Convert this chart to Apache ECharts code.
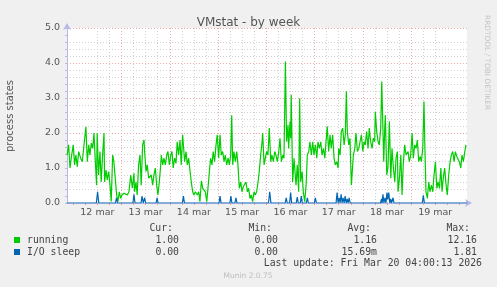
<!DOCTYPE html>
<html><head><meta charset="utf-8">
<script src="https://cdn.jsdelivr.net/npm/echarts@6.0.0/dist/echarts.min.js"></script>
<style>html,body{margin:0;padding:0;background:#f0f0f0;}#c{width:497px;height:287px;}</style>
</head><body><div id="c"></div>
<script>
// hours since 12 mar 00:00, value
const running = [[-3.0,1.37],[-2.3,1.66],[-1.6,1.0],[-1.0,1.28],[0,1.66],[0.7,1.09],[1.3,1.37],[2.0,1.04],[2.7,1.47],[3.7,1.28],[4.5,1.18],[5.3,1.13],[6.3,2.18],[7.0,1.18],[7.7,1.66],[8.3,1.37],[9.0,1.71],[9.7,1.56],[10.3,2.0],[10.9,1.28],[11.6,0.51],[11.9,2.0],[12.6,0.8],[13.3,1.47],[13.9,0.6],[14.6,1.37],[15.3,2.0],[15.6,0.6],[16.3,0.94],[16.9,0.66],[17.6,0.9],[18.3,0.51],[18.9,0.04],[19.6,1.37],[20.2,1.18],[20.9,1.23],[21.6,0.23],[22.2,0.04],[22.9,0.32],[23.6,0.13],[24.2,0.23],[25.2,0.28],[26.1,0.32],[26.9,0.23],[27.7,0.32],[28.6,0.8],[29.4,0.42],[30.2,0.85],[30.5,0.32],[31.2,0.6],[31.8,0.23],[32.5,1.09],[33.2,1.37],[33.8,0.51],[34.5,1.66],[35.2,1.8],[35.5,1.47],[36.2,0.9],[36.8,1.09],[37.5,0.71],[38.2,0.66],[38.8,0.8],[39.5,0.51],[40.1,0.8],[40.8,1.0],[41.5,0.51],[42.1,0.23],[42.8,0.6],[43.5,1.09],[43.8,1.37],[44.5,1.09],[45.1,1.28],[45.8,1.09],[46.5,1.37],[47.1,1.47],[47.8,1.09],[48.5,1.37],[49.1,1.47],[49.7,1.0],[50.4,1.28],[51.1,1.13],[51.7,1.75],[52.4,1.37],[53.1,1.8],[53.7,1.09],[54.4,1.95],[54.7,2.0],[55.4,1.18],[56.1,1.47],[56.7,1.09],[57.4,1.28],[58.1,0.9],[58.7,0.6],[59.4,0.32],[60.0,0.23],[60.7,0.32],[61.7,0.23],[62.4,0.32],[63.0,0.04],[63.7,0.63],[64.4,0.42],[65.0,0.47],[65.7,0.32],[66.4,0.04],[67.0,0.42],[67.7,0.9],[68.3,1.28],[69.0,1.09],[69.6,1.47],[70.3,1.18],[71.0,1.66],[71.6,1.95],[72.3,1.28],[73.0,1.95],[73.6,1.37],[74.3,1.47],[75.0,1.18],[75.6,1.37],[76.3,1.09],[77.0,1.28],[77.6,1.09],[78.3,1.37],[78.8,2.51],[79.3,1.09],[79.9,1.47],[80.6,1.18],[81.3,1.47],[81.9,1.09],[82.6,0.42],[83.3,0.6],[83.9,0.32],[84.6,0.47],[85.3,0.42],[85.9,0.6],[86.6,0.32],[87.2,0.42],[87.9,0.13],[88.5,0.23],[89.2,0.04],[89.9,0.32],[90.5,0.23],[91.2,0.32],[91.9,0.6],[92.5,0.9],[93.2,1.37],[93.9,1.75],[94.2,2.0],[94.9,1.09],[95.5,1.28],[96.2,1.47],[96.8,1.37],[97.5,2.14],[98.2,1.18],[98.8,1.37],[99.5,1.18],[100.2,1.47],[100.8,1.37],[101.5,1.18],[102.2,1.47],[102.8,1.85],[103.5,1.18],[104.2,1.37],[104.8,1.28],[105.5,4.04],[106.1,1.75],[106.8,2.23],[107.1,1.56],[107.8,2.33],[108.1,1.85],[108.4,3.09],[109.1,0.6],[109.8,1.28],[110.4,0.8],[110.8,0.51],[111.4,1.09],[112.1,0.32],[112.6,2.99],[113.1,0.6],[113.8,0.9],[114.4,0.32],[115.1,0.04],[115.8,0.51],[116.4,1.37],[117.1,1.47],[117.7,1.75],[118.4,1.37],[119.1,1.75],[119.7,1.37],[120.4,1.66],[121.1,1.28],[121.7,1.75],[122.4,1.56],[123.1,1.75],[123.7,1.37],[124.4,1.56],[125.1,1.28],[125.7,1.75],[126.3,2.19],[127.0,1.47],[127.7,1.95],[128.3,1.56],[129.0,1.95],[129.7,1.28],[130.3,1.09],[131.0,1.18],[131.7,1.0],[132.0,1.56],[132.7,1.37],[133.3,2.04],[134.0,2.14],[134.7,1.66],[135.3,1.95],[135.8,3.19],[136.3,2.04],[137.0,1.66],[137.6,1.85],[138.3,0.51],[138.6,0.47],[139.3,1.37],[140.0,1.56],[140.6,2.0],[141.3,1.47],[142.0,1.56],[142.6,1.75],[143.3,1.95],[144.0,1.47],[144.6,1.75],[145.2,1.66],[145.9,2.04],[146.6,1.56],[147.2,2.14],[147.9,1.75],[148.6,1.56],[149.2,1.85],[149.9,1.75],[150.2,2.61],[150.9,2.04],[151.6,1.75],[152.2,1.66],[152.9,2.14],[153.4,3.47],[153.9,2.33],[154.4,1.18],[154.9,2.14],[155.2,2.51],[155.9,0.8],[156.5,1.0],[157.2,2.33],[157.9,0.71],[158.5,1.56],[159.2,1.0],[159.9,0.6],[160.5,1.28],[161.2,1.47],[161.5,0.32],[162.2,0.71],[162.9,1.37],[163.5,0.23],[164.1,1.09],[164.8,1.66],[165.5,1.37],[166.5,1.47],[167.1,1.18],[167.8,1.37],[168.5,2.0],[169.1,1.28],[169.8,1.66],[170.5,1.56],[171.1,1.8],[171.8,1.18],[172.5,1.33],[173.1,1.18],[173.8,1.56],[174.4,2.9],[174.8,1.75],[175.4,0.32],[176.1,0.13],[176.8,0.6],[177.4,0.32],[178.1,0.51],[178.8,0.32],[179.4,0.8],[180.1,1.18],[180.8,0.42],[181.4,0.6],[182.1,0.42],[182.8,1.0],[183.4,0.32],[184.0,0.71],[184.7,1.0],[185.4,0.51],[186.0,0.23],[186.7,0.8],[187.4,1.18],[188.0,1.37],[188.7,1.47],[189.4,1.18],[190.0,1.47],[190.7,1.33],[191.4,1.37],[192.0,1.18],[192.7,1.0],[193.3,1.37],[194.0,1.18],[194.7,1.47],[195.3,1.66]];

const ioSleep = [[-3.2,0],[11.5,0],[12.1,0.32],[12.7,0],[21.0,0],[21.5,0.15],[22.0,0],[29.7,0],[30.2,0.25],[30.7,0],[33.7,0],[34.2,0.2],[34.8,0],[35.5,0.15],[36.0,0],[41.2,0],[41.7,0.15],[42.2,0],[54.3,0],[54.8,0.2],[55.3,0],[72.5,0],[73.0,0.2],[73.5,0],[77.9,0],[78.4,0.2],[78.9,0],[80.4,0],[80.9,0.15],[81.4,0],[97.1,0],[97.7,0.32],[98.3,0],[105.4,0],[105.9,0.15],[106.4,0],[107.6,0],[108.1,0.3],[108.6,0],[110.9,0],[111.4,0.17],[111.9,0],[112.9,0],[113.4,0.2],[113.9,0],[115.9,0],[116.4,0.15],[116.9,0],[119.9,0],[120.4,0.15],[120.9,0],[130.7,0],[131.2,0.3],[131.7,0],[132.2,0.15],[132.7,0],[133.2,0.25],[133.7,0],[134.2,0.15],[134.7,0],[135.2,0.2],[135.7,0],[136.2,0.12],[136.7,0],[137.2,0.15],[137.7,0],[152.8,0],[153.3,0.12],[153.6,0],[154.0,0.25],[154.5,0],[155.0,0.15],[155.5,0],[156.0,0.3],[156.4,0.1],[156.9,0.3],[157.4,0],[157.8,0.12],[158.3,0],[158.5,0],[159.0,0.15],[159.5,0],[173.6,0],[174.1,0.22],[174.6,0],[196,0]];

const dayLabels = ['12 mar','13 mar','14 mar','15 mar','16 mar','17 mar','18 mar','19 mar'];
const yTicks = [0,1,2,3,4,5];
const seriesNames = ['running','I/O sleep'];
const curVals = ['1.00','0.00'];
const minVals = ['0.00','0.00'];
const avgVals = ['1.16','15.69m'];
const maxVals = ['12.16','1.81'];
const lastUpdate = 'Last update: Fri Mar 20 04:00:13 2026';

const X_MIN = -3.1, X_MAX = 195.8;
const GREEN = '#00cc00', BLUE = '#0066b3';
const MAJOR = '#f0a8a8', MINOR = '#d2d2d2';

const xMajor = [], xMinor = [], xAll = [];
for (let h = 0; h < X_MAX; h += 6) { (h % 24 === 0 ? xMajor : xMinor).push(h); xAll.push(h); }
const yMajor = [1,2,3,4,5], yMinor = [], yAll = [];
for (let k = 1; k < 25; k++) if (k % 5) yMinor.push(+(k * 0.2).toFixed(1));
for (let k = 0; k <= 25; k++) yAll.push(+(k * 0.2).toFixed(1));

const txt = (x, y, s, align) => ({type:'text', x, y, style:{text:s, fill:'#444', font:'9.8px "DejaVu Sans Mono"', textAlign:align||'left', textVerticalAlign:'middle'}});

const graphics = [
  {type:'text', x:10, y:116, rotation:Math.PI/2, style:{text:'process states', fill:'#555', font:'10px "DejaVu Sans"', textAlign:'center', textVerticalAlign:'middle'}},
  {type:'text', x:487, y:15, rotation:-Math.PI/2, style:{text:'RRDTOOL / TOBI OETIKER', fill:'#c4c4c4', font:'7.4px "DejaVu Sans"', textAlign:'left', textVerticalAlign:'middle'}},
  txt(173,228,'Cur:','right'), txt(272,228,'Min:','right'), txt(371,228,'Avg:','right'), txt(470,228,'Max:','right'),
  {type:'rect', shape:{x:14,y:237,width:6,height:6}, style:{fill:GREEN}},
  {type:'rect', shape:{x:14,y:249,width:6,height:6}, style:{fill:BLUE}},
  txt(482,263,lastUpdate,'right'),
  {type:'text', x:248, y:276, style:{text:'Munin 2.0.75', fill:'#bdbdbd', font:'7.5px "DejaVu Sans"', textAlign:'center', textVerticalAlign:'middle'}}
];
[240,252].forEach((y,i) => {
  graphics.push(txt(27,y,seriesNames[i],'left'));
  graphics.push(txt(179,y,curVals[i],'right'));
  graphics.push(txt(278,y,minVals[i],'right'));
  graphics.push(txt(377,y,avgVals[i],'right'));
  graphics.push(txt(477,y,maxVals[i],'right'));
});

const gridAxis = (vals, color, showMax) => ({
  type:'value',
  axisLine:{show:false}, axisLabel:{show:false},
  axisTick:{show:false, customValues:vals},
  splitLine:{show:true, showMinLine:false, showMaxLine:!!showMax, lineStyle:{color, type:[1,2], width:1}}
});
const axisLineStyle = {show:true, onZero:false, lineStyle:{color:'#b8b8e8', width:1}, symbol:['none','arrow'], symbolSize:[6,7], symbolOffset:[0,5]};

const xg1 = Object.assign(gridAxis(xMinor, MINOR), {min:X_MIN, max:X_MAX});
const xg2 = Object.assign(gridAxis(xMajor, MAJOR), {min:X_MIN, max:X_MAX});
const yg1 = Object.assign(gridAxis(yMinor, MINOR), {min:0, max:5});
const yg2 = Object.assign(gridAxis(yMajor, MAJOR, true), {min:0, max:5});

const chart = echarts.init(document.getElementById('c'), null, {renderer:'canvas'});
chart.setOption({
  animation: false,
  backgroundColor: '#f0f0f0',
  title: {text:'VMstat - by week', left:'center', top:12, textStyle:{fontFamily:'DejaVu Sans', fontSize:12, fontWeight:'normal', color:'#555'}},
  grid: {left:67, top:28, width:400, height:175, show:true, backgroundColor:'#ffffff', borderWidth:0},
  xAxis: [
    xg1, xg2,
    {type:'value', min:X_MIN, max:X_MAX, position:'bottom', splitLine:{show:false},
     axisLine:axisLineStyle, axisTick:{show:true, customValues:xAll, length:2, lineStyle:{color:'#d0a0a0', width:1}},
     axisLabel:{customValues: dayLabels.map((d,i)=>12+24*i), formatter:(v)=>dayLabels[Math.round((v-12)/24)], color:'#555', fontFamily:'DejaVu Sans', fontSize:9.5, margin:5}}
  ],
  yAxis: [
    yg1, yg2,
    {type:'value', min:0, max:5, position:'left', splitLine:{show:false},
     axisLine:axisLineStyle, axisTick:{show:true, customValues:yAll, length:2, lineStyle:{color:'#c0c0c0', width:1}},
     axisLabel:{customValues: yTicks, formatter:(v)=>v.toFixed(1), color:'#555', fontFamily:'DejaVu Sans', fontSize:9.5, margin:7}}
  ],
  graphic: graphics,
  series: [
    {name:'running', type:'line', xAxisIndex:2, yAxisIndex:2, data:running, z:3, showSymbol:false, symbol:'none', lineStyle:{color:GREEN, width:1.2}, clip:true},
    {name:'I/O sleep', type:'line', xAxisIndex:2, yAxisIndex:2, data:ioSleep, z:4, showSymbol:false, symbol:'none', lineStyle:{color:BLUE, width:1.2}, clip:true}
  ]
});
</script></body></html>
